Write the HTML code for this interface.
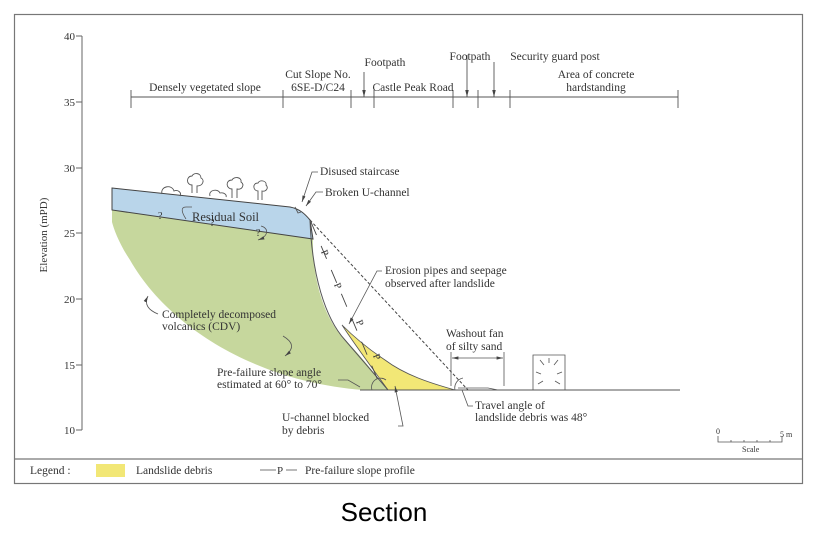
<!DOCTYPE html>
<html><head><meta charset="utf-8"><style>
body{margin:0;background:#fff;width:825px;height:537px;overflow:hidden}
svg{display:block}
text{font-family:"Liberation Serif",serif;fill:#333}
</style></head><body>
<svg width="825" height="537" viewBox="0 0 825 537" xmlns="http://www.w3.org/2000/svg">
<defs>
<marker id="a" markerWidth="8" markerHeight="6" refX="8" refY="3" orient="auto-start-reverse"><path d="M0,1 L8,3 L0,5z" fill="#444"/></marker>
</defs>
<rect x="14.5" y="14.5" width="788" height="469" fill="none" stroke="#777" stroke-width="1.2"/>
<line x1="14" y1="459" x2="803" y2="459" stroke="#777" stroke-width="1.2"/>
<g stroke="#666" stroke-width="1" fill="none">
<line x1="82" y1="36" x2="82" y2="430"/>
<line x1="76" y1="36" x2="82" y2="36"/><line x1="76" y1="102" x2="82" y2="102"/><line x1="76" y1="168" x2="82" y2="168"/>
<line x1="76" y1="233" x2="82" y2="233"/><line x1="76" y1="299" x2="82" y2="299"/><line x1="76" y1="365" x2="82" y2="365"/><line x1="76" y1="430" x2="82" y2="430"/>
</g>
<g font-size="11" text-anchor="end">
<text x="75" y="40">40</text><text x="75" y="106">35</text><text x="75" y="172">30</text><text x="75" y="237">25</text>
<text x="75" y="303">20</text><text x="75" y="369">15</text><text x="75" y="434">10</text>
</g>
<text x="47" y="235" font-size="11" text-anchor="middle" transform="rotate(-90 47 235)">Elevation (mPD)</text>
<g stroke="#555" stroke-width="0.9" fill="none">
<line x1="131" y1="97" x2="678" y2="97"/>
<line x1="131" y1="90" x2="131" y2="108"/><line x1="283" y1="90" x2="283" y2="108"/>
<line x1="351" y1="90" x2="351" y2="108"/><line x1="374" y1="90" x2="374" y2="108"/>
<line x1="453" y1="90" x2="453" y2="108"/><line x1="478" y1="90" x2="478" y2="108"/>
<line x1="510" y1="90" x2="510" y2="108"/><line x1="678" y1="90" x2="678" y2="108"/>
<line x1="364" y1="72" x2="364" y2="97" marker-end="url(#a)"/>
<line x1="467" y1="55" x2="467" y2="97" marker-end="url(#a)"/>
<line x1="494" y1="62" x2="494" y2="97" marker-end="url(#a)"/>
</g>
<g font-size="11.5" text-anchor="middle">
<text x="205" y="91">Densely vegetated slope</text>
<text x="318" y="78">Cut Slope No.</text><text x="318" y="91">6SE-D/C24</text>
<text x="385" y="66">Footpath</text>
<text x="413" y="91">Castle Peak Road</text>
<text x="470" y="60">Footpath</text>
<text x="555" y="60">Security guard post</text>
<text x="596" y="78">Area of concrete</text><text x="596" y="91">hardstanding</text>
</g>
<path d="M112,210 L313,239 C312,280 325,320 345,340 C365,360 375,375 388,390 L363,390 C260,382 170,330 130,260 C120,245 114,230 112,222 Z" fill="#c6d79d"/>
<path d="M112,188 L290,207 C300,209 305,214 310,220 L313,239 L112,210 Z" fill="#b9d5ea" stroke="#444" stroke-width="1"/>
<path d="M342,325 C355,345 370,365 388,390 L455,390 C430,383 405,375 385,360 C370,350 355,338 342,325 Z" fill="#f2e776" stroke="#555" stroke-width="0.8"/>
<path d="M310,220 C312,275 325,318 345,340 C362,360 375,375 388,390" fill="none" stroke="#555" stroke-width="1"/>
<line x1="360" y1="390" x2="680" y2="390" stroke="#555" stroke-width="1"/>
<line x1="310" y1="220" x2="468" y2="390" stroke="#444" stroke-width="1" stroke-dasharray="3,2"/>
<line x1="311" y1="222" x2="382" y2="390" stroke="#444" stroke-width="0.9" stroke-dasharray="14,12"/>
<g font-size="10" text-anchor="middle">
<text x="322" y="254" transform="rotate(67 322 254)">P</text>
<text x="335" y="287" transform="rotate(67 335 287)">P</text>
<text x="357" y="324" transform="rotate(67 357 324)">P</text>
<text x="374" y="358" transform="rotate(67 374 358)">P</text>
</g>
<g fill="none" stroke="#555" stroke-width="0.9">
<path d="M162,194 c-2,-8 10,-10 12,-3 c4,-2 8,2 6,5"/>
<path d="M192,193 l0,-8 c-6,0 -6,-9 0,-9 c2,-4 9,-3 9,2 c4,2 2,8 -4,8 l0,7"/>
<path d="M210,196 c-2,-6 8,-8 10,-3 c4,-1 7,2 6,4"/>
<path d="M232,198 l0,-9 c-6,0 -7,-9 0,-9 c2,-4 10,-3 9,2 c4,3 1,8 -4,7 l0,9"/>
<path d="M258,200 l0,-9 c-5,0 -6,-8 0,-8 c2,-4 9,-2 8,2 c3,3 0,7 -4,6 l0,9"/>
<path d="M295,207 l3,6 3,-1"/>
</g>
<g fill="none" stroke="#555" stroke-width="0.8">
<path d="M372,390 a9,9 0 0 1 14,-10"/>
<path d="M455,390 a10,10 0 0 1 8,-12"/>
<path d="M458,388 l30,0 l10,2"/>
<path d="M533,390 l0,-35 l32,0 l0,35"/>
<path d="M540,360 l4,5 M558,360 l-4,5 M536,372 l5,2 M562,372 l-5,2 M538,384 l5,-3 M560,384 l-5,-3 M549,358 l0,5"/>
</g>
<g fill="none" stroke="#555" stroke-width="0.8">
<path d="M318,172 l-6,0 l-10,30" marker-end="url(#a)"/>
<path d="M323,192 l-7,0 l-10,14" marker-end="url(#a)"/>
<path d="M382,271 l-5,0 l-28,53" marker-end="url(#a)"/>
<path d="M186,219 c-4,-6 -6,-12 0,-12 l6,0"/>
<path d="M261,226 c8,2 8,10 -3,14" marker-end="url(#a)"/>
<path d="M158,314 c-10,-4 -14,-10 -10,-18" marker-end="url(#a)"/>
<path d="M283,336 c10,6 12,12 2,20" marker-end="url(#a)"/>
<path d="M338,380 l10,0 l12,7"/>
<path d="M398,426 l5,0 l-8,-40" marker-end="url(#a)"/>
<path d="M473,406 l-5,0 l-6,-16"/>
<line x1="452" y1="358" x2="503" y2="358" marker-start="url(#a)" marker-end="url(#a)"/>
<line x1="451" y1="352" x2="451" y2="386"/><line x1="504" y1="352" x2="504" y2="386"/>
</g>
<g font-size="10" fill="#333"><text x="158" y="219">?</text><text x="210" y="226">?</text><text x="256" y="236">?</text></g>
<g font-size="11.5">
<text x="320" y="175">Disused staircase</text>
<text x="325" y="196">Broken U-channel</text>
<text x="192" y="221" font-size="12.5">Residual Soil</text>
<text x="385" y="274">Erosion pipes and seepage</text>
<text x="385" y="287">observed after landslide</text>
<text x="162" y="318">Completely decomposed</text>
<text x="162" y="330">volcanics (CDV)</text>
<text x="446" y="337">Washout fan</text>
<text x="446" y="350">of silty sand</text>
<text x="217" y="376">Pre-failure slope angle</text>
<text x="217" y="388">estimated at 60° to 70°</text>
<text x="282" y="421">U-channel blocked</text>
<text x="282" y="434">by debris</text>
<text x="475" y="409">Travel angle of</text>
<text x="475" y="421">landslide debris was 48°</text>
<text x="30" y="474">Legend :</text>
<text x="136" y="474">Landslide debris</text>
<text x="305" y="474">Pre-failure slope profile</text>
</g>
<rect x="96" y="464" width="29" height="13" fill="#f2e776"/>
<line x1="260" y1="470" x2="276" y2="470" stroke="#777"/><text x="277" y="474" font-size="11">P</text><line x1="286" y1="470" x2="297" y2="470" stroke="#777"/>
<g stroke="#555" fill="none" stroke-width="0.8">
<path d="M718,436 l0,6 l64,0 l0,-6"/>
<path d="M731,440 l0,2 M744,440 l0,2 M757,440 l0,2 M770,440 l0,2"/>
</g>
<text x="716" y="434" font-size="8">0</text><text x="780" y="437" font-size="8">5 m</text>
<text x="742" y="452" font-size="8">Scale</text>
<text x="384" y="521" font-size="26" text-anchor="middle" style="font-family:'Liberation Sans',sans-serif;fill:#000">Section</text>
</svg>
</body></html>
